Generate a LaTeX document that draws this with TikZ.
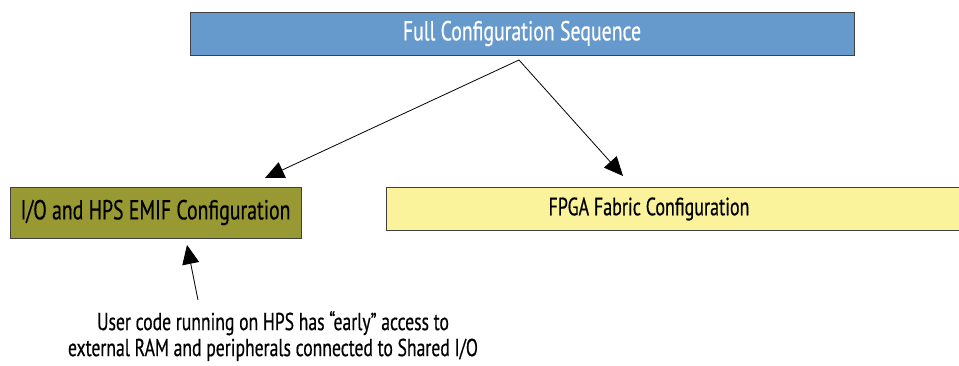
\documentclass[tikz,border=0pt]{standalone}
\usepackage{fontspec}
\setmainfont{PT Sans}[FakeStretch=0.72, FakeBold=0.5]
\usetikzlibrary{arrows.meta}
\definecolor{seqblue}{HTML}{6699CC}
\definecolor{emifolive}{HTML}{999933}
\definecolor{fabricyellow}{HTML}{FAF39B}
\definecolor{boxline}{HTML}{404040}
\tikzstyle{block} = [draw=boxline, line width=0.9pt, inner sep=0pt, minimum height=43pt]
\tikzstyle{arrow} = [line width=0.8pt, -{Triangle[length=19pt,width=17pt]}]

\begin{document}
\begin{tikzpicture}[x=1pt, y=-1pt, every node/.style={font=\fontsize{27.5}{26}\selectfont}]
	\useasboundingbox (0,0) rectangle (959,365);
	% boxes
	\node[block, fill=seqblue, text=white, minimum width=664pt] (seq) at (522,33.5) {Full Configuration Sequence};
	\node[block, fill=emifolive, minimum width=291pt, minimum height=51pt] (emif) at (155.5,212.5) {I/O and HPS EMIF Configuration};
	\node[block, fill=fabricyellow, minimum width=600pt] (fabric) at (686,208.5) {};
	\node[font=\fontsize{25}{26}\selectfont] (fabrictext) at (649,209) {FPGA Fabric Configuration};
	\node[align=center, font=\fontsize{24.5}{26}\selectfont] (note) at (273,336) {User code running on HPS has “early” access to\\external RAM and peripherals connected to Shared I/O};
	% arrow ends
	\coordinate (split) at (519,60);
	\coordinate (emiftop) at (265,178);
	\coordinate (fabrictop) at (623,176);
	\coordinate (notetop) at (198,300);
	\coordinate (emifbottom) at (187,245);
	\draw[arrow] (split) -- (emiftop);
	\draw[arrow] (split) -- (fabrictop);
	\draw[arrow] (notetop) -- (emifbottom);
\end{tikzpicture}
\end{document}
